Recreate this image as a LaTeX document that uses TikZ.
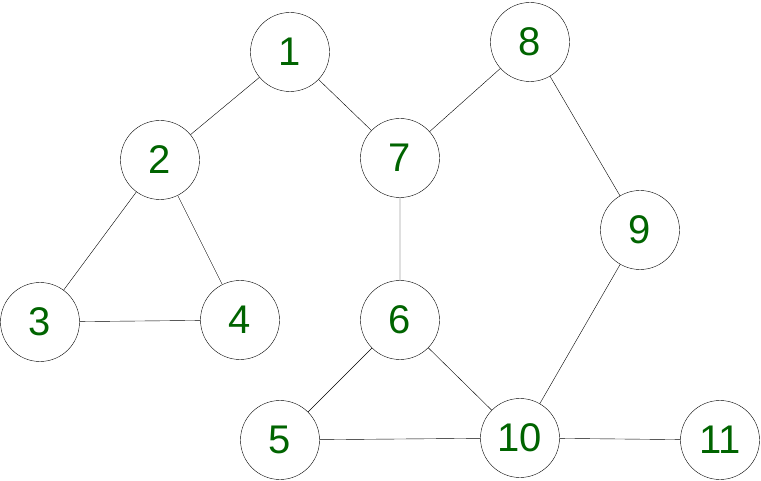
\documentclass[tikz,border=0pt]{standalone}
\usepackage{fontspec}
\setmainfont{Liberation Sans}
\usepackage{tikz}
\definecolor{numgreen}{RGB}{0,100,0}

\begin{document}
\begin{tikzpicture}[x=1pt,y=-1pt,vertex/.style={circle,draw,fill=white,minimum size=79pt,inner sep=0pt,text=numgreen,font=\fontsize{40}{44}\selectfont}]
	\useasboundingbox (0,0) rectangle (761,481);
	\node[vertex] (v_1) at (290,52) {1};
	\node[vertex] (v_2) at (160,160) {2};
	\node[vertex] (v_7) at (400,158) {7};
	\node[vertex] (v_8) at (530,42) {8};
	\node[vertex] (v_9) at (640,230) {9};
	\node[vertex] (v_3) at (40,322) {3};
	\node[vertex] (v_4) at (240,320) {4};
	\node[vertex] (v_6) at (400,320) {6};
	\node[vertex] (v_5) at (280,440) {5};
	\node[vertex] (v_10) at (520,438) {10};
	\node[vertex] (v_11) at (720,440) {11};
	\path[draw]
		(v_1) -- (v_2)
		(v_1) -- (v_7)
		(v_8) -- (v_7)
		(v_8) -- (v_9)
		(v_2) -- (v_3)
		(v_2) -- (v_4)
		(v_3) -- (v_4)
		(v_7) -- (v_6)
		(v_6) -- (v_5)
		(v_6) -- (v_10)
		(v_5) -- (v_10)
		(v_9) -- (v_10)
		(v_10) -- (v_11);
\end{tikzpicture}
\end{document}
